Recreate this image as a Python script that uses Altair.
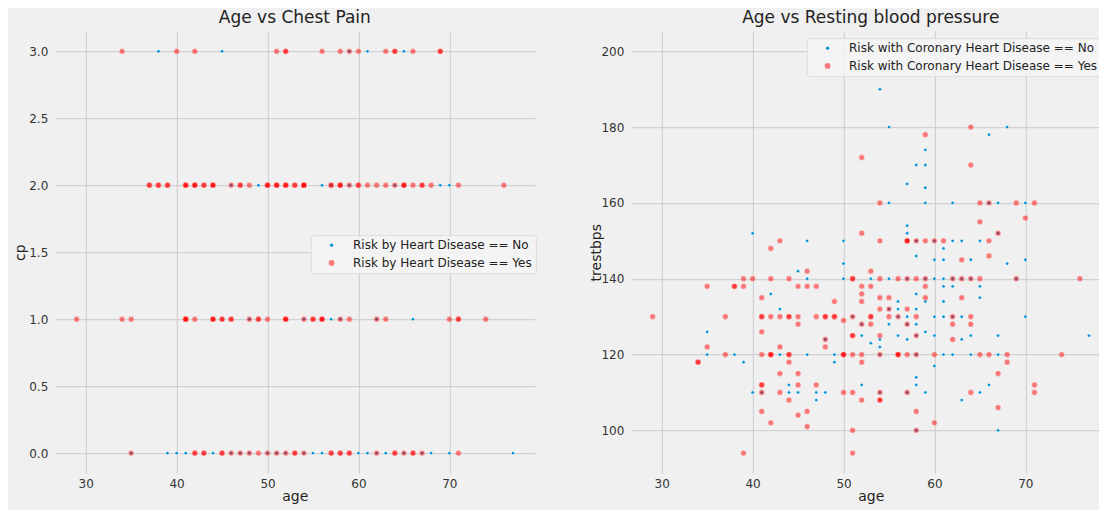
import altair as alt
import pandas as pd

FONT = "DejaVu Sans"
BLUE = "#008fd5"
RED = "red"

# ---------------- data ----------------
age_ticks = [30, 40, 50, 60, 70]
cp_ticks = [0.0, 0.5, 1.0, 1.5, 2.0, 2.5, 3.0]
bp_ticks = [100, 120, 140, 160, 180, 200]

left_labels = ["Risk by Heart Disease == No", "Risk by Heart Disease == Yes"]
right_labels = ["Risk with Coronary Heart Disease == No", "Risk with Coronary Heart Disease == Yes"]

# Age vs chest pain (cp) : ages per cp level
cp3_no = [38, 45, 59, 61, 65]
cp3_yes = [34, 40, 42, 51, 52, 52, 56, 58, 59, 60, 63, 64, 64, 66, 69, 69]
cp2_no = [46, 49, 56, 57, 59, 64, 69, 70]
cp2_yes = [37, 37, 38, 38, 39, 39, 41, 41, 41, 42, 42, 42, 43, 43, 44, 44, 44, 46, 47, 47,
           48, 50, 50, 50, 51, 51, 51, 52, 52, 52, 53, 53, 54, 54, 54, 54, 57, 57, 58, 58,
           58, 59, 60, 60, 61, 62, 63, 64, 65, 65, 65, 66, 67, 67, 68, 71, 76]
cp1_no = [48, 54, 57, 58, 62, 66]
cp1_yes = [29, 34, 35, 41, 41, 41, 41, 42, 44, 44, 44, 45, 45, 46, 46, 48, 49, 49, 50, 52,
           52, 52, 54, 55, 55, 56, 56, 56, 58, 59, 62, 63, 70, 71, 71, 74]
cp0_no = [35, 39, 40, 41, 44, 46, 47, 48, 50, 51, 52, 54, 55, 56, 60, 61, 62, 63, 65, 67,
          68, 70, 77]
cp0_yes = [35, 42, 42, 43, 43, 45, 45, 46, 47, 48, 49, 50, 51, 52, 53, 53, 54, 57, 57, 58,
           58, 59, 59, 62, 64, 64, 65, 66, 66, 67, 71]

# Age vs resting blood pressure : (age, trestbps)
rbp_no = [(40, 152), (46, 150), (50, 150), (50, 144), (45, 142), (46, 140), (50, 140), (42, 136),
          (43, 132), (35, 126), (54, 190), (56, 200), (55, 180), (66, 178), (68, 180), (59, 174),
          (58, 170), (59, 170), (57, 165), (59, 164), (57, 154), (57, 152), (67, 152), (55, 160),
          (59, 160), (62, 160), (66, 160), (67, 160), (70, 160), (58, 150), (60, 150), (62, 150),
          (63, 150), (65, 150), (61, 148), (58, 146), (60, 145), (61, 145), (64, 145), (68, 144),
          (70, 145), (53, 140), (55, 140), (57, 140), (59, 140), (60, 140), (61, 140), (62, 140),
          (63, 140), (64, 140), (69, 140), (61, 138), (62, 138), (65, 138), (58, 136), (56, 134),
          (59, 134), (61, 134), (65, 135), (55, 132), (56, 132), (58, 132), (51, 130), (56, 130),
          (57, 130), (60, 130), (61, 130), (62, 130), (63, 130), (70, 130), (52, 128), (55, 128),
          (57, 128), (58, 128), (59, 126), (52, 125), (56, 125), (58, 125), (60, 125), (64, 125),
          (67, 125), (77, 125), (57, 124), (63, 124), (54, 124), (53, 123), (54, 122), (48, 124),
          (35, 120), (38, 120), (43, 120), (46, 120), (49, 120), (39, 118), (49, 118), (44, 112),
          (40, 110), (41, 110), (44, 110), (45, 110), (47, 110), (48, 110), (47, 108), (54, 120),
          (58, 120), (61, 120), (62, 120), (64, 120), (67, 120), (60, 117), (58, 114), (52, 112),
          (58, 112), (66, 112), (54, 110), (57, 110), (59, 110), (65, 110), (63, 108), (58, 100),
          (67, 100)]
rbp_yes = [(43, 150), (42, 148), (46, 142), (51, 140), (51, 140), (39, 140), (40, 140), (42, 140),
           (44, 140), (35, 138), (38, 138), (38, 138), (39, 138), (45, 138), (46, 138), (47, 138),
           (41, 135), (49, 134), (29, 130), (37, 130), (41, 130), (41, 130), (42, 130), (43, 130),
           (44, 130), (44, 130), (45, 130), (47, 130), (48, 130), (48, 130), (49, 130), (49, 130),
           (45, 128), (50, 129), (41, 126), (59, 178), (64, 180), (64, 170), (52, 172), (54, 160),
           (65, 160), (66, 160), (69, 160), (71, 160), (65, 155), (70, 156), (52, 152), (67, 152),
           (54, 150), (57, 150), (57, 150), (57, 150), (58, 150), (59, 150), (60, 150), (61, 150),
           (66, 150), (63, 145), (66, 146), (53, 142), (54, 140), (56, 140), (57, 140), (58, 140),
           (59, 140), (62, 140), (63, 140), (64, 140), (65, 140), (69, 140), (76, 140), (52, 138),
           (53, 138), (59, 138), (52, 136), (59, 135), (52, 134), (54, 135), (55, 135), (63, 135),
           (54, 132), (55, 132), (57, 132), (51, 130), (53, 130), (53, 130), (55, 130), (56, 130),
           (58, 130), (62, 130), (64, 130), (52, 128), (53, 128), (57, 128), (62, 128), (64, 128),
           (48, 124), (35, 122), (43, 122), (48, 122), (37, 120), (41, 120), (42, 120), (42, 120),
           (42, 120), (44, 120), (44, 120), (50, 120), (50, 120), (50, 120), (51, 120), (52, 120),
           (54, 120), (56, 120), (56, 120), (56, 120), (57, 120), (58, 120), (60, 120), (65, 120),
           (66, 120), (68, 120), (74, 120), (34, 118), (34, 118), (44, 118), (52, 118), (68, 118),
           (43, 115), (45, 115), (67, 115), (41, 112), (41, 112), (45, 112), (47, 112), (71, 112),
           (41, 110), (43, 110), (50, 110), (51, 110), (54, 110), (57, 110), (64, 110), (71, 110),
           (44, 108), (52, 108), (54, 108), (54, 108), (67, 106), (41, 105), (46, 105), (58, 105),
           (45, 104), (42, 102), (60, 102), (46, 101), (51, 100), (58, 100), (39, 94), (51, 94),
           (51, 125), (51, 125), (54, 125), (58, 125), (62, 124)]

# ---------------- tables ----------------
left_rows = []
for cp, ages in [(3, cp3_no), (2, cp2_no), (1, cp1_no), (0, cp0_no)]:
    left_rows += [{"age": a, "val": cp, "series": left_labels[0]} for a in ages]
for cp, ages in [(3, cp3_yes), (2, cp2_yes), (1, cp1_yes), (0, cp0_yes)]:
    left_rows += [{"age": a, "val": cp, "series": left_labels[1]} for a in ages]
left_df = pd.DataFrame(left_rows)

right_rows = [{"age": a, "val": b, "series": right_labels[0]} for a, b in rbp_no]
right_rows += [{"age": a, "val": b, "series": right_labels[1]} for a, b in rbp_yes]
right_df = pd.DataFrame(right_rows)


def panel(df, labels, title, xdom, ydom, yvals, yfmt, ytitle, lx, ly):
    leg = alt.Legend(title=None, orient="none", legendX=lx, legendY=ly)
    return alt.Chart(df, title=title).mark_circle(stroke="white", strokeWidth=0.5).encode(
        x=alt.X("age:Q", scale=alt.Scale(domain=xdom, nice=False, zero=False),
                axis=alt.Axis(title="age", values=age_ticks, format="d")),
        y=alt.Y("val:Q", scale=alt.Scale(domain=ydom, nice=False, zero=False),
                axis=alt.Axis(title=ytitle, values=yvals, format=yfmt)),
        color=alt.Color("series:N", scale=alt.Scale(domain=labels, range=[BLUE, RED]), legend=leg),
        size=alt.Size("series:N", scale=alt.Scale(domain=labels, range=[11, 33]), legend=leg),
        opacity=alt.Opacity("series:N", scale=alt.Scale(domain=labels, range=[1.0, 0.5]), legend=leg),
    ).properties(width=480, height=442)


left = panel(left_df, left_labels, "Age vs Chest Pain", [26.6, 79.4], [-0.15, 3.15],
             cp_ticks, ".1f", "cp", 256, 204)
right = panel(right_df, right_labels, "Age vs Resting blood pressure", [26.6, 79.4], [88.7, 205.3],
              bp_ticks, "d", "trestbps", 176, 7)

chart = alt.hconcat(left, right, spacing=96, bounds="flush").resolve_scale(
    color="independent", size="independent", opacity="independent"
).resolve_legend(
    color="independent", size="independent", opacity="independent"
).properties(
    autosize=alt.AutoSizeParams(type="none"),
    padding={"left": 46.8, "top": 23.2, "right": 1044.2, "bottom": 470.8},
    background="#f0f0f0",
).configure_view(
    stroke=None, fill="#f0f0f0"
).configure_axis(
    domain=False, ticks=False, grid=True, gridColor="#cbcbcb", gridWidth=1,
    labelFont=FONT, labelFontSize=12, labelColor="#333333",
    titleFont=FONT, titleFontSize=14, titleFontWeight="normal", titleColor="#222222",
    titleBaseline="alphabetic",
).configure_axisX(
    labelBaseline="alphabetic", labelPadding=14, titleY=27.6
).configure_axisY(
    labelPadding=7, titleX=-30.8
).configure_title(
    font=FONT, fontSize=17, fontWeight="normal", color="#222222", offset=4,
    anchor="middle", baseline="alphabetic"
).configure_legend(
    labelFont=FONT, labelFontSize=12, labelColor="#222222", fillColor="rgba(244,244,244,0.85)",
    strokeColor="#dcdcdc", cornerRadius=3, padding=4, rowPadding=5.7, symbolOffset=10.8,
    labelOffset=15.4, symbolStrokeWidth=0, labelLimit=400,
)

chart.save("out.html", embed_options={"renderer": "svg", "actions": False})
